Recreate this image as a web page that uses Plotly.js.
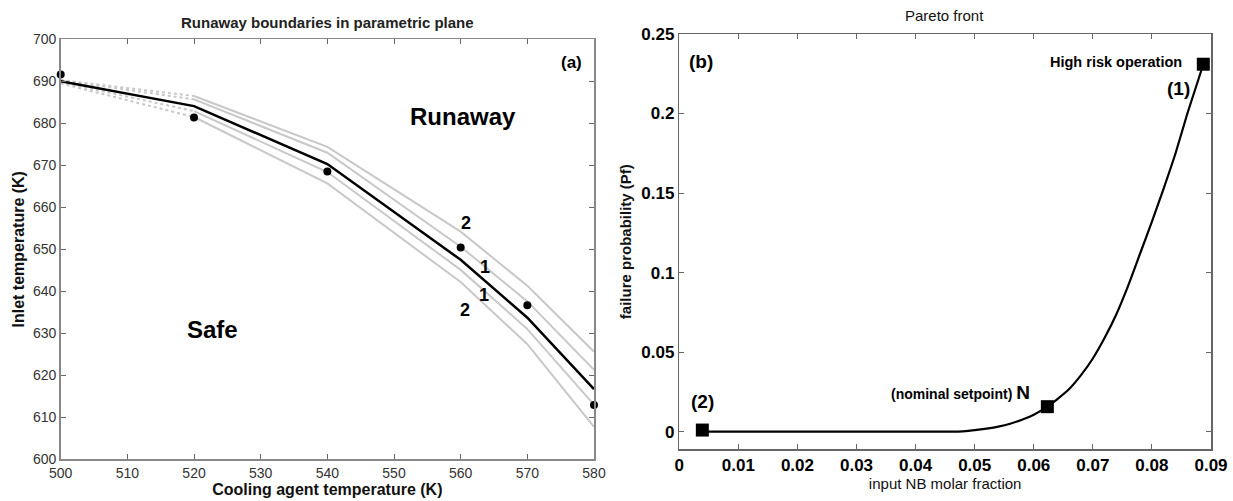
<!DOCTYPE html>
<html>
<head>
<meta charset="utf-8">
<script src="https://cdn.plot.ly/plotly-3.0.1.min.js"></script>
<style>html,body{margin:0;padding:0;background:#fff;}#chart{width:1233px;height:501px;}</style>
</head>
<body>
<div id="chart"></div>
<script>
// ---------- Panel (a): runaway boundaries ----------
const coolingT = [500, 520, 540, 560, 570, 580];
const boundaryNominal = [690.0, 684.1, 670.3, 647.5, 633.7, 616.7];
const boundaryUpper2 = [690.3, 686.5, 674.4, 654.2, 641.3, 625.6];
const boundaryUpper1 = [690.2, 685.7, 673.0, 650.6, 637.6, 621.3];
const boundaryLower1 = [689.8, 682.9, 668.4, 645.1, 631.0, 613.0];
const boundaryLower2 = [689.5, 681.5, 665.7, 642.2, 627.4, 607.7];
const simPointsT = [500, 520, 540, 560, 570, 580];
const simPointsInlet = [691.6, 681.4, 668.5, 650.4, 636.7, 612.9];

// ---------- Panel (b): Pareto front ----------
const nbFraction = [0.0039, 0.01, 0.02, 0.03, 0.04, 0.046, 0.048, 0.05, 0.052, 0.054, 0.056, 0.058, 0.060, 0.0623, 0.064, 0.066, 0.068, 0.070, 0.072, 0.074, 0.076, 0.078, 0.080, 0.082, 0.084, 0.086, 0.0887];
const failureProb = [0.0, 0.0, 0.0, 0.0, 0.0, 0.0, 0.0002, 0.0009, 0.0019, 0.0032, 0.0050, 0.0075, 0.0106, 0.0157, 0.0205, 0.0268, 0.0355, 0.0460, 0.0590, 0.0740, 0.0920, 0.1120, 0.1320, 0.1530, 0.1750, 0.2000, 0.2310];
const keyPointX = [0.0887, 0.0623, 0.0039];
const keyPointY = [0.2310, 0.0157, 0.0010];

const gray = '#c8c8c8';
const traces = [];
function grayBoundary(ys) {
  // first segment drawn dotted, remainder solid
  traces.push({x: coolingT.slice(0, 2), y: ys.slice(0, 2), mode: 'lines', xaxis: 'x', yaxis: 'y',
    line: {color: gray, width: 2, dash: 'dot'}, showlegend: false, hoverinfo: 'skip'});
  traces.push({x: coolingT.slice(1), y: ys.slice(1), mode: 'lines', xaxis: 'x', yaxis: 'y',
    line: {color: gray, width: 2}, showlegend: false, hoverinfo: 'skip'});
}
[boundaryUpper2, boundaryUpper1, boundaryLower1, boundaryLower2].forEach(grayBoundary);
traces.push({x: coolingT, y: boundaryNominal, mode: 'lines', xaxis: 'x', yaxis: 'y',
  line: {color: '#000', width: 2.5}, showlegend: false});
traces.push({x: simPointsT, y: simPointsInlet, mode: 'markers', xaxis: 'x', yaxis: 'y',
  marker: {color: '#000', size: 8}, showlegend: false, cliponaxis: false});

traces.push({x: nbFraction, y: failureProb, mode: 'lines', xaxis: 'x2', yaxis: 'y2',
  line: {color: '#000', width: 2.2, shape: 'spline', smoothing: 0.5}, showlegend: false});
traces.push({x: keyPointX, y: keyPointY, mode: 'markers', xaxis: 'x2', yaxis: 'y2',
  marker: {color: '#000', size: 13, symbol: 'square'}, showlegend: false, cliponaxis: false});

const W = 1233, H = 501;
const leftFont = 'Liberation Sans, Arial, Helvetica, sans-serif';
const narrowFont = 'Liberation Sans Narrow, Arial Narrow, Liberation Sans, Arial, sans-serif';

const axCommon = {showgrid: false, zeroline: false, showline: true, mirror: 'ticks', ticks: 'inside',
  ticklen: 5, tickcolor: '#666', linecolor: '#888', linewidth: 1.5, automargin: false, fixedrange: true};

const layout = {
  width: W, height: H,
  margin: {l: 0, r: 0, t: 0, b: 0},
  paper_bgcolor: '#fff', plot_bgcolor: '#fff',
  showlegend: false,
  xaxis: Object.assign({}, axCommon, {
    domain: [60.7 / W, 594 / W], range: [500, 580], dtick: 10, tick0: 500,
    tickfont: {family: leftFont, size: 14, color: '#333'},
    title: {text: 'Cooling agent temperature (K)', font: {family: leftFont, size: 16, color: '#111', weight: 'bold'}, standoff: 2},
    anchor: 'y'
  }),
  yaxis: Object.assign({}, axCommon, {
    domain: [1 - 459.3 / H, 1 - 39.3 / H], range: [600, 700], dtick: 10, tick0: 600,
    tickfont: {family: leftFont, size: 14, color: '#333'},
    title: {text: 'Inlet temperature (K)', font: {family: leftFont, size: 16, color: '#111', weight: 'bold'}, standoff: 4},
    anchor: 'x'
  }),
  xaxis2: Object.assign({}, axCommon, {
    domain: [679.3 / W, 1211 / W], range: [0, 0.09], dtick: 0.01, tick0: 0,
    linecolor: '#666',
    tickfont: {family: narrowFont, size: 17, color: '#000', weight: 'bold'},
    title: {text: 'input NB molar fraction', font: {family: narrowFont, size: 15, color: '#111'}, standoff: 2},
    anchor: 'y2'
  }),
  yaxis2: Object.assign({}, axCommon, {
    domain: [1 - 449.3 / H, 1 - 34 / H], range: [-0.0111, 0.25], dtick: 0.05, tick0: 0,
    linecolor: '#666',
    tickfont: {family: narrowFont, size: 17, color: '#000', weight: 'bold'},
    title: {text: 'failure probability (Pf)', font: {family: narrowFont, size: 15, color: '#111', weight: 'bold'}, standoff: 6},
    anchor: 'x2'
  }),
  annotations: [
    {text: 'Runaway boundaries in parametric plane', xref: 'paper', yref: 'paper', x: 327 / W, y: 1 - 22 / H,
      xanchor: 'center', yanchor: 'middle',
      showarrow: false, font: {family: leftFont, size: 15, color: '#222', weight: 'bold'}},
    {text: 'Pareto front', xref: 'paper', yref: 'paper', x: 945 / W, y: 1 - 15 / H,
      xanchor: 'center', yanchor: 'middle',
      showarrow: false, font: {family: narrowFont, size: 15, color: '#111'}},
    {text: '(a)', xref: 'x', yref: 'y', x: 576.6, y: 694.4, showarrow: false,
      font: {family: leftFont, size: 17, color: '#000', weight: 'bold'}},
    {text: 'Runaway', xref: 'x', yref: 'y', x: 560.3, y: 681.6, showarrow: false,
      font: {family: leftFont, size: 24, color: '#000', weight: 'bold'}},
    {text: 'Safe', xref: 'x', yref: 'y', x: 522.7, y: 630.8, showarrow: false,
      font: {family: leftFont, size: 24, color: '#000', weight: 'bold'}},
    {text: '2', xref: 'x', yref: 'y', x: 560.8, y: 656.3, showarrow: false,
      font: {family: leftFont, size: 18, color: '#000', weight: 'bold'}},
    {text: '1', xref: 'x', yref: 'y', x: 563.6, y: 645.9, showarrow: false,
      font: {family: leftFont, size: 18, color: '#000', weight: 'bold'}},
    {text: '1', xref: 'x', yref: 'y', x: 563.5, y: 639.1, showarrow: false,
      font: {family: leftFont, size: 18, color: '#000', weight: 'bold'}},
    {text: '2', xref: 'x', yref: 'y', x: 560.7, y: 635.5, showarrow: false,
      font: {family: leftFont, size: 18, color: '#000', weight: 'bold'}},
    {text: '(b)', xref: 'x2', yref: 'y2', x: 0.0036, y: 0.2326, showarrow: false,
      font: {family: narrowFont, size: 19, color: '#000', weight: 'bold'}},
    {text: 'High risk operation', xref: 'x2', yref: 'y2', x: 0.0855, y: 0.2326, xanchor: 'right', showarrow: false,
      font: {family: narrowFont, size: 14.5, color: '#000', weight: 'bold'}},
    {text: '(1)', xref: 'x2', yref: 'y2', x: 0.0845, y: 0.2160, showarrow: false,
      font: {family: narrowFont, size: 19, color: '#000', weight: 'bold'}},
    {text: '(nominal setpoint) <span style="font-size:19px">N</span>', xref: 'x2', yref: 'y2', x: 0.0597, y: 0.0245,
      xanchor: 'right', showarrow: false,
      font: {family: narrowFont, size: 14, color: '#000', weight: 'bold'}},
    {text: '(2)', xref: 'x2', yref: 'y2', x: 0.0039, y: 0.0189, showarrow: false,
      font: {family: narrowFont, size: 19, color: '#000', weight: 'bold'}}
  ]
};

Plotly.newPlot('chart', traces, layout, {staticPlot: true, displayModeBar: false});
</script>
</body>
</html>
